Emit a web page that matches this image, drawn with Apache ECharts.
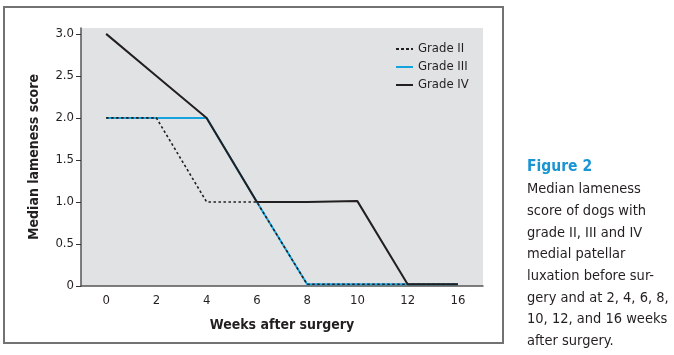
<!DOCTYPE html>
<html><head><meta charset="utf-8">
<script src="https://cdn.jsdelivr.net/npm/echarts@6/dist/echarts.min.js"></script>
<style>html,body{margin:0;padding:0;background:#fff}#c{width:674px;height:355px}</style>
</head><body><div id="c"></div>
<script>
var weeks = ['0', '2', '4', '6', '8', '10', '12', '16'];
var gradeII = [2, 2, 1, 1, 0.02, 0.02, 0.02, 0.02];
var gradeIII = [2, 2, 2, 1, 0.02, 0.02, 0.02, 0.02];
var gradeIV = [3, 2.5, 2, 1, 1, 1.01, 0.02, 0.02];
var yTicks = [0, 0.5, 1, 1.5, 2, 2.5, 3];
var captionTitle = 'Figure 2';
var captionLines = ['Median lameness', 'score of dogs with', 'grade II, III and IV', 'medial patellar', 'luxation before sur-', 'gery and at 2, 4, 6, 8,', '10, 12, and 16 weeks', 'after surgery.'];

var FONT = '"Liberation Sans Narrow", "DejaVu Sans Condensed", "Open Sans", sans-serif';
var chart = echarts.init(document.getElementById('c'), null, {renderer: 'canvas'});
var graphics = [
  {type: 'rect', shape: {x: 4, y: 7, width: 499, height: 336}, style: {fill: 'none', stroke: '#727272', lineWidth: 2}, z: 0},
  {type: 'text', left: 527, top: 159, style: {text: captionTitle, fill: '#1a95d2', font: 'bold 15.5px ' + FONT}}
];
captionLines.forEach(function (t, i) {
  graphics.push({type: 'text', left: 527, top: 182 + i * 21.7, style: {text: t, fill: '#231f20', font: '14.5px ' + FONT}});
});
var dotIcon = 'path://M0,0h3v2h-3z M5,0h3v2h-3z M10,0h3v2h-3z M15,0h2v2h-2z';
var lineIcon = 'path://M0,0h17v2h-17z';
chart.setOption({
  animation: false,
  textStyle: {fontFamily: FONT},
  graphic: graphics,
  grid: {left: 81, right: 191, top: 28, bottom: 69, show: true, backgroundColor: '#e1e2e4', borderWidth: 0},
  legend: {
    orient: 'vertical', left: 396, top: 41.5, padding: 0, itemWidth: 17, itemHeight: 2, itemGap: 3,
    data: [{name: 'Grade II', icon: dotIcon}, {name: 'Grade III', icon: lineIcon}, {name: 'Grade IV', icon: lineIcon}],
    textStyle: {fontSize: 13, color: '#231f20', fontFamily: FONT, lineHeight: 15}
  },
  xAxis: {
    type: 'category', data: weeks, boundaryGap: true,
    name: 'Weeks after surgery', nameLocation: 'middle', nameGap: 32,
    nameTextStyle: {fontSize: 14, fontWeight: 'bold', color: '#231f20', fontFamily: FONT},
    axisLine: {lineStyle: {color: '#555', width: 1.5}},
    axisTick: {alignWithLabel: true, length: 5, lineStyle: {color: '#333'}},
    axisLabel: {fontSize: 13, color: '#231f20', margin: 8, fontFamily: FONT},
    splitLine: {show: false}
  },
  yAxis: {
    type: 'value', min: 0, max: 3.07,
    name: 'Median lameness score', nameLocation: 'middle', nameGap: 40,
    nameTextStyle: {fontSize: 14, fontWeight: 'bold', color: '#231f20', fontFamily: FONT},
    axisLine: {show: true, lineStyle: {color: '#555', width: 1.5}},
    axisTick: {show: true, length: 5, customValues: yTicks, lineStyle: {color: '#333'}},
    axisLabel: {fontSize: 13, color: '#231f20', margin: 7, customValues: yTicks, fontFamily: FONT,
      formatter: function (v) { return v === 0 ? '0' : v.toFixed(1); }},
    splitLine: {show: false}
  },
  series: [
    {name: 'Grade III', type: 'line', data: gradeIII, symbol: 'none', lineStyle: {color: '#14a3df', width: 2}, itemStyle: {color: '#14a3df'}},
    {name: 'Grade II', type: 'line', data: gradeII, symbol: 'none', lineStyle: {color: '#231f20', width: 1.6, type: [2.5, 2.5]}, itemStyle: {color: '#231f20'}},
    {name: 'Grade IV', type: 'line', data: gradeIV, symbol: 'none', lineStyle: {color: '#231f20', width: 2}, itemStyle: {color: '#231f20'}}
  ]
});
</script></body></html>
